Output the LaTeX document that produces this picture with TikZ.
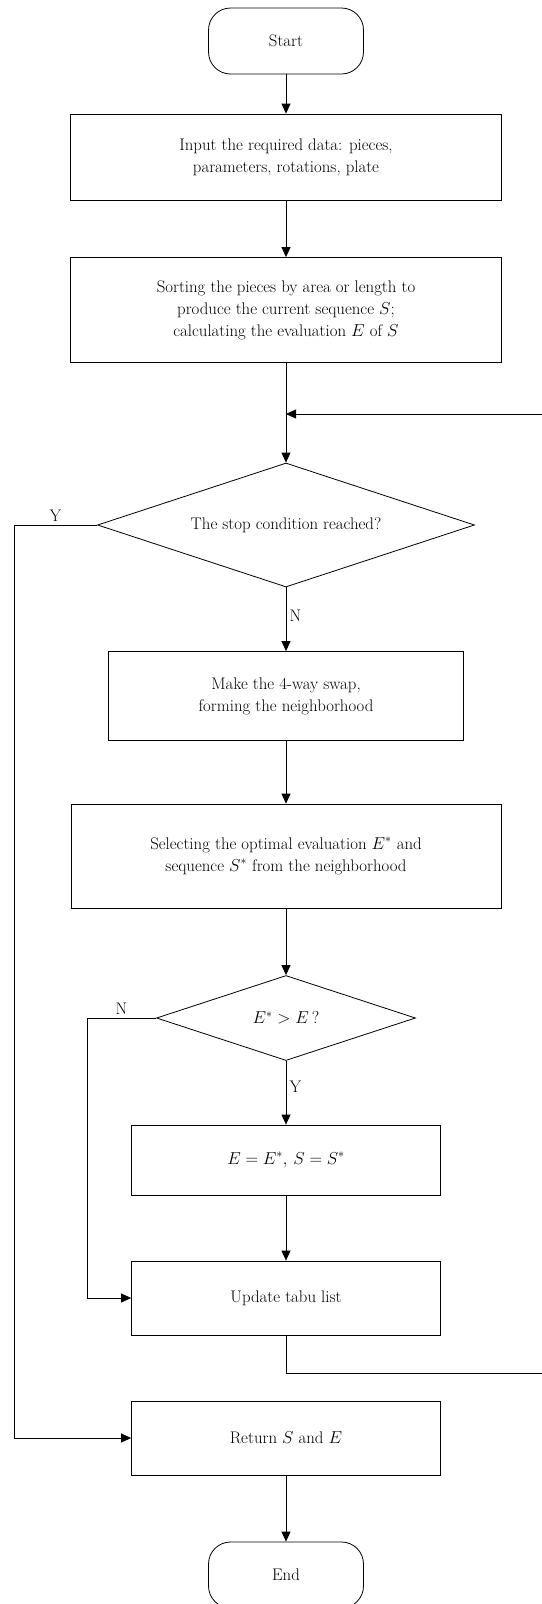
\documentclass[tikz,border=0pt]{standalone}
\usepackage{fontspec}
\usetikzlibrary{shapes.geometric,arrows.meta}
\begin{document}
\begin{tikzpicture}[x=1pt,y=-1pt,line width=0.8pt,font=\fontsize{16.8}{22}\selectfont]

        \useasboundingbox (0,0) rectangle (541,1604);

        \begin{scope}[every node/.style={draw,rectangle,align=center,inner sep=0pt}]
          \node[rounded corners=22pt,minimum width=155pt,minimum height=66pt] (1) at (286,41) {Start};
          \node[minimum width=431pt,minimum height=86pt] (2) at (286,157) {Input the required data: pieces,\\parameters, rotations, plate};
          \node[minimum width=431pt,minimum height=105pt] (3) at (286,310) {Sorting the pieces by area or length to\\produce the current sequence $S$;\\calculating the evaluation $E$ of $S$};
          \node[shape=diamond,aspect=3,minimum width=377pt,minimum height=124pt] (4) at (286,525) {The stop condition reached?};
          \node[minimum width=355pt,minimum height=89pt] (5) at (286,696) {Make the 4-way swap,\\forming the neighborhood};
          \node[minimum width=430pt,minimum height=104pt] (6) at (286,856) {Selecting the optimal evaluation $E^*$ and\\sequence $S^*$ from the neighborhood};
          \node[shape=diamond,aspect=3,minimum width=259pt,minimum height=85pt] (7) at (286,1018) {$E^* > E\,?$};
          \node[minimum width=309pt,minimum height=70pt] (8) at (286,1160) {$E = E^*,\, S = S^*$};
          \node[minimum width=309pt,minimum height=74pt] (9) at (286,1298) {Update tabu list};
          \node[minimum width=309pt,minimum height=74pt] (10) at (286,1438) {Return $S$ and $E$};
          \node[rounded corners=22pt,minimum width=155pt,minimum height=66pt] (11) at (286,1575) {End};
        \end{scope}

        \coordinate (m)  at (286,414);
        \coordinate (y1) at (14,525);
        \coordinate (n1) at (87,1018);
        \coordinate (d1) at (286,1373);
        \coordinate (r1) at (560,1373);
        \coordinate (r2) at (560,414);

        \begin{scope}[every edge/.style={draw,-{Triangle[length=10pt,width=9pt]}}]
          \path (1)  edge (2);
          \path (2)  edge (3);
          \draw (3) -- (m);
          \path (m)  edge (4);
          \path (4)  edge node[right,pos=0.45] {N} (5);
          \path (5)  edge (6);
          \path (6)  edge (7);
          \path (7)  edge node[right,pos=0.4] {Y} (8);
          \path (8)  edge (9);
          \path (10) edge (11);
          \draw (4) -- node[above] {Y} (y1);
          \path (y1) edge[to path={|- (\tikztotarget)}] (10);
          \draw (7) -- node[above] {N} (n1);
          \path (n1) edge[to path={|- (\tikztotarget)}] (9);
          \draw (9) -- (d1) -- (r1) -- (r2);
          \path (r2) edge (m);
        \end{scope}

      \end{tikzpicture}
\end{document}
